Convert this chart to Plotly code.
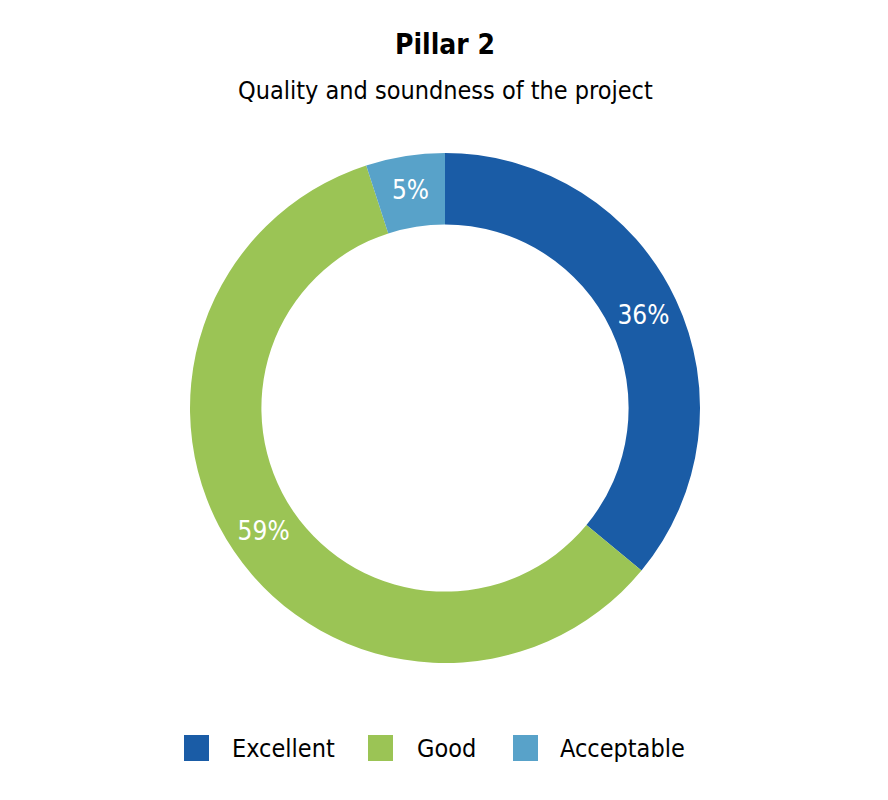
import plotly.graph_objects as go

categories = ["Excellent", "Good", "Acceptable"]
values = [36, 59, 5]
colors = ["#1a5ca6", "#9bc455", "#58a2c9"]
title = "Pillar 2"
subtitle = "Quality and soundness of the project"

FONT = "DejaVu Sans Condensed, Liberation Sans Narrow, sans-serif"
W, H = 888, 800
OFF = 8  # page body margin
cx, cy, R = 445 - OFF, 408 - OFF, 255

fig = go.Figure(go.Pie(
    labels=categories,
    values=values,
    marker=dict(colors=colors, line=dict(width=0)),
    hole=0.72,
    sort=False,
    direction="clockwise",
    rotation=0,
    texttemplate="%{value}%",
    textposition="inside",
    insidetextorientation="horizontal",
    textfont=dict(family=FONT, size=26, color="white"),
    showlegend=False,
    domain=dict(x=[(cx - R) / W, (cx + R) / W], y=[(H - cy - R) / H, (H - cy + R) / H]),
))

annotations = [
    dict(text=f"<b>{title}</b>", x=(445 - OFF) / W, y=1 - (44 - OFF) / H, xref="paper", yref="paper",
         showarrow=False, font=dict(family=FONT, size=28, color="black"), xanchor="center", yanchor="middle"),
    dict(text=subtitle, x=(445 - OFF) / W, y=1 - (90 - OFF) / H, xref="paper", yref="paper",
         showarrow=False, font=dict(family=FONT, size=25, color="black"), xanchor="center", yanchor="middle"),
]
shapes = []
sq_x = [184, 368, 513]
txt_x = [230, 415, 558]
ly = 748
for cat, col, sx, tx in zip(categories, colors, sq_x, txt_x):
    shapes.append(dict(type="rect", xref="paper", yref="paper",
                       x0=(sx - OFF) / W, x1=(sx + 25 - OFF) / W,
                       y0=1 - (ly + 13 - OFF) / H, y1=1 - (ly - 13 - OFF) / H,
                       fillcolor=col, line=dict(width=0)))
    annotations.append(dict(text=cat, x=(tx - OFF) / W, y=1 - (ly - OFF) / H, xref="paper", yref="paper",
                            showarrow=False, xanchor="left", yanchor="middle",
                            font=dict(family=FONT, size=25, color="black")))

fig.update_layout(
    width=W, height=H,
    margin=dict(l=0, r=0, t=0, b=0),
    paper_bgcolor="white", plot_bgcolor="white",
    annotations=annotations, shapes=shapes,
)
fig.write_html("out.html")
